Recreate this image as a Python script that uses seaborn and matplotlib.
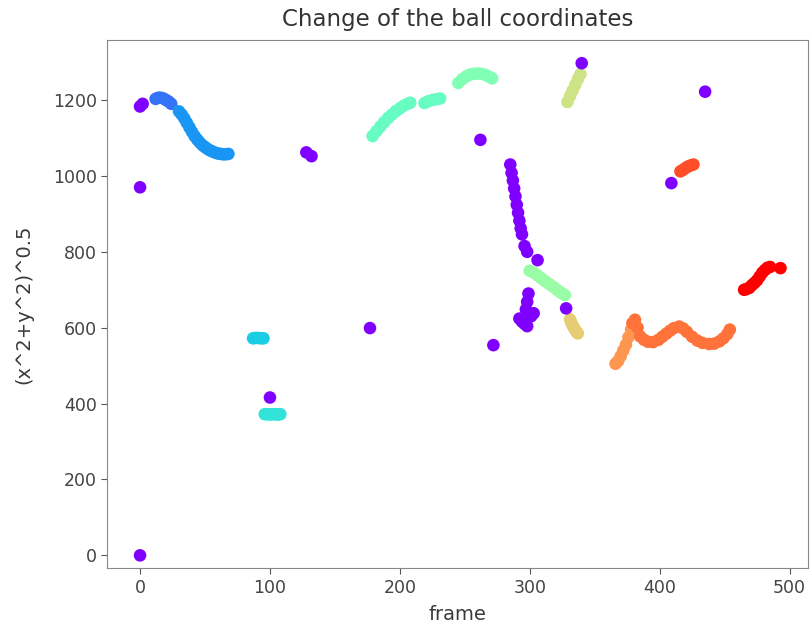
import numpy as np
import pandas as pd
import matplotlib
matplotlib.use("Agg")
import matplotlib.pyplot as plt
import seaborn as sns

# ---- data: (frame, sqrt(x^2+y^2)) per cluster, label -1 = noise ----
noise_frame = [0, 0, 2, 0, 100, 128, 132, 177, 262, 272, 340, 409, 435, 328,
               285, 286, 287, 288, 289, 290, 291, 292, 293, 294, 296, 298, 306,
               299, 298, 297, 292, 294, 296, 298, 301, 303]
noise_value = [0, 970, 1190, 1183, 416, 1062, 1052, 599, 1095, 554, 1297, 981, 1222, 651,
               1030, 1008, 988, 967, 946, 924, 903, 882, 862, 846, 815, 800, 778,
               690, 668, 648, 624, 616, 610, 604, 630, 638]

blue1_frame = [12, 14, 16, 18, 20, 22, 24]
blue1_value = [1203, 1206, 1206, 1204, 1200, 1196, 1190]

blue2_frame = [30, 32, 34, 36, 38, 40, 42, 44, 46, 48, 50, 52, 54, 56, 58, 60, 62, 64, 66, 68]
blue2_value = [1170, 1162, 1152, 1140, 1128, 1116, 1105, 1096, 1088, 1081,
               1076, 1071, 1067, 1064, 1061, 1059, 1058, 1057, 1057, 1058]

cyan_frame = [87, 89, 91, 93, 95]
cyan_value = [572, 573, 573, 572, 572]

turq_frame = [96, 98, 100, 102, 104, 106, 108]
turq_value = [372, 372, 371, 372, 372, 371, 372]

aqua1_frame = [179, 182, 185, 188, 191, 194, 197, 200, 203, 206, 208]
aqua1_value = [1105, 1118, 1130, 1142, 1153, 1162, 1171, 1178, 1185, 1190, 1193]

aqua2_frame = [219, 222, 225, 228, 231]
aqua2_value = [1192, 1197, 1200, 1202, 1204]

aqua3_frame = [245, 248, 251, 254, 257, 260, 263, 266, 269, 271]
aqua3_value = [1245, 1255, 1262, 1267, 1269, 1270, 1269, 1266, 1261, 1257]

lgreen_frame = [300, 303, 306, 309, 312, 315, 318, 321, 324, 327]
lgreen_value = [750, 745, 738, 730, 722, 715, 708, 700, 692, 686]

ygreen_frame = [329, 331, 333, 335, 337, 339]
ygreen_value = [1195, 1210, 1225, 1240, 1255, 1268]

tan_frame = [331, 332, 333, 334, 335, 336, 337]
tan_value = [622, 613, 606, 600, 594, 589, 585]

lorange_frame = [366, 368, 370, 372, 374, 376, 378]
lorange_value = [505, 512, 525, 540, 555, 575, 595]

orange_frame = [379, 381, 383, 385, 388, 391, 395, 399, 402, 405, 408, 411, 415,
                418, 421, 425, 429, 433, 438, 442, 446, 449, 452, 454]
orange_value = [612, 621, 600, 577, 568, 563, 562, 568, 576, 584, 592, 599, 603,
                598, 589, 576, 566, 560, 557, 558, 564, 572, 583, 595]

rorange_frame = [416, 418, 420, 422, 424, 426]
rorange_value = [1012, 1016, 1021, 1025, 1028, 1030]

red_frame = [465, 467, 469, 471, 473, 475, 477, 479, 481, 483, 485, 493]
red_value = [700, 702, 705, 712, 718, 725, 735, 745, 752, 758, 760, 757]

groups = [
    (blue1_frame, blue1_value, 2),
    (blue2_frame, blue2_value, 3),
    (cyan_frame, cyan_value, 5),
    (turq_frame, turq_value, 6),
    (aqua1_frame, aqua1_value, 8),
    (aqua2_frame, aqua2_value, 8),
    (aqua3_frame, aqua3_value, 9),
    (lgreen_frame, lgreen_value, 10),
    (ygreen_frame, ygreen_value, 12),
    (tan_frame, tan_value, 13),
    (lorange_frame, lorange_value, 15),
    (orange_frame, orange_value, 16),
    (rorange_frame, rorange_value, 17),
    (red_frame, red_value, 19),
    (noise_frame, noise_value, -1),
]

rows = []
for fr, va, lab in groups:
    for f, v in zip(fr, va):
        rows.append((f, v, lab))
df = pd.DataFrame(rows, columns=["frame", "value", "label"])

sns.set_style("ticks")
plt.rcParams['font.family'] = ['DejaVu Sans']

fig = plt.figure(figsize=(8.11, 6.30), dpi=100)
ax = fig.add_axes([0.132, 0.098, 0.864, 0.839])

sns.scatterplot(data=df, x="frame", y="value", hue="label", palette="rainbow",
                hue_norm=(-1, 19), s=82, linewidth=0, legend=False, ax=ax)

ax.set_xlim(-25.4, 514)
ax.set_ylim(-34, 1359)
ax.set_xticks([0, 100, 200, 300, 400, 500])
ax.set_yticks([0, 200, 400, 600, 800, 1000, 1200])
ax.tick_params(labelsize=12.5, colors='#555555', labelcolor='#444444', length=4)
for s in ax.spines.values():
    s.set_visible(True)
    s.set_color('#888888')
ax.set_xlabel("frame", fontsize=14, color='#3a3a3a', labelpad=6)
ax.set_ylabel("(x^2+y^2)^0.5", fontsize=14, color='#3a3a3a', labelpad=14)
ax.set_title("Change of the ball coordinates", fontsize=16.5, color='#333333', pad=10)

fig.savefig("out.png", dpi=100)
